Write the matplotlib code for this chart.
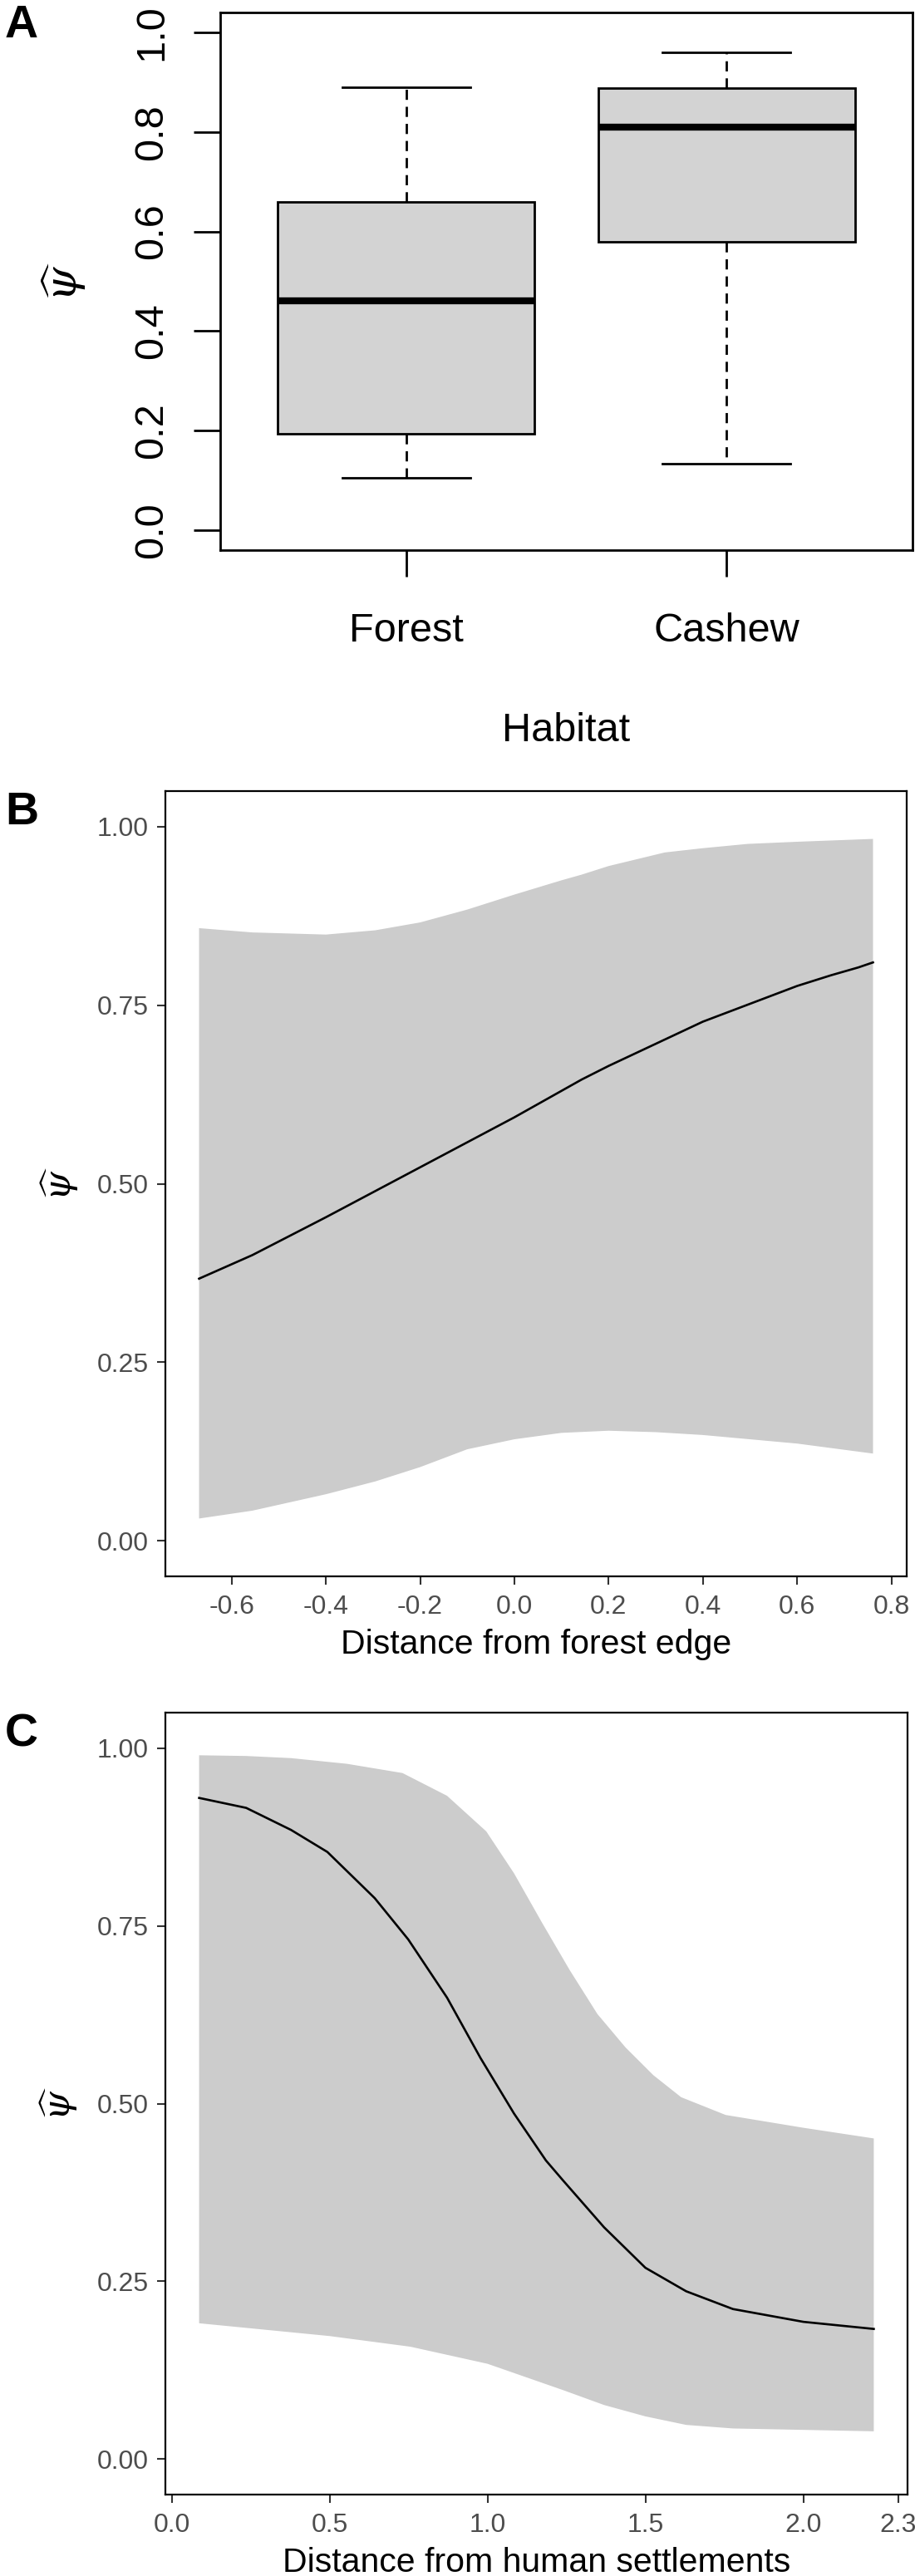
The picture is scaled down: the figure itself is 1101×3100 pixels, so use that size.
import numpy as np
import matplotlib
matplotlib.use('Agg')
import matplotlib.pyplot as plt

plt.rcParams['font.family'] = ['Liberation Sans', 'DejaVu Sans']
plt.rcParams['mathtext.fontset'] = 'dejavuserif'

# --- panel A: psi by habitat (box summaries)
habitat = ['Forest', 'Cashew']
whisk_lo = [0.105, 0.134]
q1 = [0.193, 0.580]
median = [0.461, 0.809]
q3 = [0.659, 0.888]
whisk_hi = [0.889, 0.960]
a_yticks = [0.0, 0.2, 0.4, 0.6, 0.8, 1.0]

# --- panel B: distance from forest edge
edge_x = [-0.669, -0.556, -0.4, -0.2, 0.0, 0.143, 0.2, 0.4, 0.6, 0.672, 0.730, 0.761]
edge_psi = [0.367, 0.400, 0.453, 0.523, 0.593, 0.646, 0.665, 0.727, 0.777, 0.792, 0.803, 0.810]
edge_up_x = [-0.669, -0.556, -0.4, -0.295, -0.2, -0.1, 0.0, 0.1, 0.143, 0.2, 0.319, 0.4, 0.495, 0.6, 0.761]
edge_up = [0.858, 0.852, 0.849, 0.855, 0.866, 0.884, 0.905, 0.925, 0.933, 0.945, 0.964, 0.970, 0.976, 0.979, 0.983]
edge_lo_x = [-0.669, -0.556, -0.4, -0.295, -0.2, -0.1, 0.0, 0.1, 0.2, 0.3, 0.4, 0.5, 0.6, 0.761]
edge_lo = [0.031, 0.042, 0.065, 0.083, 0.103, 0.128, 0.142, 0.151, 0.154, 0.152, 0.148, 0.142, 0.136, 0.122]
b_xticks = [-0.6, -0.4, -0.2, 0.0, 0.2, 0.4, 0.6, 0.8]

# --- panel C: distance from human settlements
sett_x = [0.087, 0.236, 0.378, 0.493, 0.643, 0.749, 0.872, 0.978, 1.084, 1.185, 1.239, 1.369, 1.5, 1.629, 1.777, 2.0, 2.223]
sett_psi = [0.930, 0.916, 0.885, 0.854, 0.789, 0.731, 0.649, 0.564, 0.486, 0.420, 0.392, 0.326, 0.269, 0.236, 0.211, 0.193, 0.183]
sett_up_x = [0.087, 0.236, 0.378, 0.555, 0.731, 0.872, 0.996, 1.084, 1.172, 1.260, 1.348, 1.437, 1.525, 1.613, 1.754, 2.0, 2.223]
sett_up = [0.990, 0.989, 0.986, 0.978, 0.965, 0.933, 0.883, 0.824, 0.755, 0.688, 0.626, 0.579, 0.540, 0.509, 0.484, 0.466, 0.451]
sett_lo_x = [0.087, 0.5, 0.756, 1.0, 1.239, 1.369, 1.5, 1.629, 1.777, 2.0, 2.223]
sett_lo = [0.191, 0.173, 0.158, 0.134, 0.097, 0.076, 0.060, 0.048, 0.043, 0.041, 0.039]
c_xticks = [0.0, 0.5, 1.0, 1.5, 2.0, 2.3]

bc_yticks = [0.0, 0.25, 0.5, 0.75, 1.0]

W, H = 1101, 3100
fig = plt.figure(figsize=(W / 100, H / 100), dpi=100)


def add_ax(left, top, right, bottom):
	return fig.add_axes([left / W, 1 - bottom / H, (right - left) / W, (bottom - top) / H])


psi_label = r'$\widehat{\psi}$'

# ---------------- A
axA = add_ax(265, 15, 1098, 662)
stats = []
for i in range(len(habitat)):
	stats.append(dict(label=habitat[i], whislo=whisk_lo[i], q1=q1[i], med=median[i],
					  q3=q3[i], whishi=whisk_hi[i]))
axA.bxp(stats, positions=[1, 2], widths=0.8, capwidths=0.4, patch_artist=True, showfliers=False,
		boxprops=dict(facecolor='#D3D3D3', edgecolor='black', linewidth=2),
		medianprops=dict(color='black', linewidth=6, solid_capstyle='butt'),
		whiskerprops=dict(color='black', linewidth=2, linestyle=(0, (4.4, 3))),
		capprops=dict(color='black', linewidth=2))
axA.set_xlim(0.42, 2.58)
axA.set_ylim(-0.04, 1.04)
axA.set_xticks([1, 2], labels=habitat)
axA.set_yticks(a_yticks, labels=[f'{v:.1f}' for v in a_yticks], rotation=90, va='center')
axA.tick_params(axis='both', length=23, width=2, labelsize=35, color='black')
axA.tick_params(axis='y', pad=20)
axA.tick_params(axis='x', pad=31)
for s in axA.spines.values():
	s.set_linewidth(2)
axA.set_xlabel('Habitat', fontsize=35)
axA.xaxis.set_label_coords(0.5, -(892 - 662) / 647)
axA.xaxis.label.set_va('baseline')
axA.set_ylabel(psi_label, fontsize=38, rotation=90)
axA.yaxis.set_label_coords((77 - 265) / 833, 0.5)
axA.yaxis.label.set_va('center')


def ribbon_panel(ax, x, y, up_x, up, lo_x, lo, xticks, xlabel):
	ax.fill(np.concatenate([up_x, lo_x[::-1]]), np.concatenate([up, lo[::-1]]),
			color='#CCCCCC', lw=0)
	ax.plot(x, y, color='black', lw=1.9)
	ax.set_ylim(-0.05, 1.05)
	ax.set_xticks(xticks, labels=[f'{v:.1f}' for v in xticks])
	ax.set_yticks(bc_yticks, labels=[f'{v:.2f}' for v in bc_yticks])
	ax.tick_params(axis='both', length=7.5, width=1.5, color='#333333',
				   labelsize=23, labelcolor='#4D4D4D')
	ax.tick_params(axis='x', pad=8.5)
	ax.tick_params(axis='y', pad=7)
	for s in ax.spines.values():
		s.set_linewidth(1.6)
	h = ax.get_position().height * H
	ax.set_xlabel(xlabel, fontsize=29.5)
	ax.xaxis.set_label_coords(0.5, -93 / h)
	ax.xaxis.label.set_va('baseline')
	ax.set_ylabel(psi_label, fontsize=32, rotation=90)
	ax.yaxis.set_label_coords((72 - 199) / 892, 0.5)
	ax.yaxis.label.set_va('center')


axB = add_ax(199, 952, 1091, 1897)
ribbon_panel(axB, edge_x, edge_psi, np.array(edge_up_x), np.array(edge_up),
			 np.array(edge_lo_x), np.array(edge_lo), b_xticks, 'Distance from forest edge')

axC = add_ax(199, 2061, 1092, 3002)
ribbon_panel(axC, sett_x, sett_psi, np.array(sett_up_x), np.array(sett_up),
			 np.array(sett_lo_x), np.array(sett_lo), c_xticks, 'Distance from human settlements')

for letter, top in [('A', 5), ('B', 952), ('C', 2062)]:
	fig.text(6 / W, 1 - top / H, letter, fontsize=40, fontweight='bold', va='top', ha='left')

fig.savefig('out.png', dpi=100)
